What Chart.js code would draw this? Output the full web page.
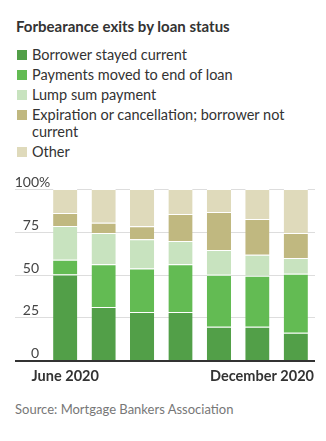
<!DOCTYPE html>
<html>
<head>
<meta charset="utf-8">
<script src="https://cdn.jsdelivr.net/npm/chart.js@4/dist/chart.umd.min.js"></script>
<style>
  body { margin: 0; width: 326px; height: 441px; background: #fff; font-family: Lato, "Open Sans", sans-serif; position: relative; overflow: hidden; }
  .title { position: absolute; left: 16px; top: 17px; font-size: 15px; font-weight: 700; color: #333; }
  .legend { position: absolute; left: 17px; top: 46px; width: 300px; }
  .item { position: relative; padding-left: 15px; font-size: 14.5px; line-height: 17px; color: #333; margin-bottom: 3px; }
  .item span { position: absolute; left: 0; top: 4px; width: 10px; height: 10px; }
  .wrap { position: absolute; left: 0; top: 170px; width: 326px; height: 220px; }
  .source { position: absolute; left: 15px; top: 401px; font-size: 13px; color: #777; }
</style>
</head>
<body>
<div class="title">Forbearance exits by loan status</div>
<div class="legend" id="legend"></div>
<div class="wrap"><canvas id="myChart"></canvas></div>
<div class="source">Source: Mortgage Bankers Association</div>
<script>
{
  'use strict';

  const months = ['June 2020', 'July 2020', 'August 2020', 'September 2020', 'October 2020', 'November 2020', 'December 2020'];
  const stayedCurrent = [50, 31, 28, 28, 19.5, 19.5, 16];
  const movedToEnd = [8.6, 25, 25.5, 28, 30.3, 29.7, 34.4];
  const lumpSum = [19.8, 18.3, 17.1, 13.6, 14.6, 12.3, 9.3];
  const expiration = [7.6, 5.9, 7.6, 15.8, 22.2, 21, 14.6];
  const other = [14, 19.8, 21.8, 14.6, 13.4, 17.5, 25.7];
  const yTicks = [0, 25, 50, 75, 100];
  const xLabels = ['June 2020', 'December 2020'];

  const series = [
    { label: 'Borrower stayed current', data: stayedCurrent, color: '#529f48' },
    { label: 'Payments moved to end of loan', data: movedToEnd, color: '#63bb53' },
    { label: 'Lump sum payment', data: lumpSum, color: '#c8e3bf' },
    { label: 'Expiration or cancellation; borrower not current', data: expiration, color: '#c0b880' },
    { label: 'Other', data: other, color: '#dfdabb' }
  ];

  /* Legend */
  const legend = document.getElementById('legend');
  series.forEach(function (s) {
    const div = document.createElement('div');
    div.className = 'item';
    div.innerHTML = '<span style="background:' + s.color + '"></span>' + s.label;
    legend.appendChild(div);
  });

  /* Axis plugin */
  const axisPlugin = {
    id: 'axisPlugin',
    beforeDatasetsDraw(chart) {
      const ctx = chart.ctx;
      const y = chart.scales.y;
      const area = chart.chartArea;
      ctx.save();
      ctx.strokeStyle = '#dddddd';
      ctx.lineWidth = 1;
      yTicks.forEach(function (t) {
        if (t === 0) return;
        const py = Math.round(y.getPixelForValue(t)) + 0.5;
        ctx.beginPath();
        ctx.moveTo(15, py);
        ctx.lineTo(area.right, py);
        ctx.stroke();
      });
      ctx.fillStyle = '#444';
      ctx.font = '14px Lato';
      ctx.textAlign = 'right';
      ctx.textBaseline = 'alphabetic';
      yTicks.forEach(function (t) {
        const py = y.getPixelForValue(t);
        ctx.fillText(String(t), 39, py - 2);
        if (t === 100) {
          ctx.textAlign = 'left';
          ctx.fillText('%', 39, py - 2);
          ctx.textAlign = 'right';
        }
      });
      ctx.restore();
    },
    afterDatasetsDraw(chart) {
      const ctx = chart.ctx;
      const x = chart.scales.x;
      const y = chart.scales.y;
      const area = chart.chartArea;
      ctx.save();
      const py = y.getPixelForValue(0);
      ctx.strokeStyle = '#333';
      ctx.lineWidth = 2;
      ctx.beginPath();
      ctx.moveTo(15, py + 1);
      ctx.lineTo(area.right, py + 1);
      ctx.stroke();
      ctx.fillStyle = '#333';
      ctx.font = 'bold 14.5px Lato';
      ctx.textAlign = 'center';
      ctx.fillText(xLabels[0], x.getPixelForValue(0), py + 21);
      ctx.textAlign = 'right';
      ctx.fillText(xLabels[1], area.right - 1, py + 21);
      ctx.restore();
    }
  };

  function initChart() {
    const ctx = document.getElementById('myChart').getContext('2d');

    // eslint-disable-next-line no-undef
    new Chart(ctx, {
      type: 'bar',
      data: {
        labels: months,
        datasets: series.map(function (s) {
          return {
            label: s.label,
            data: s.data,
            backgroundColor: s.color,
            borderColor: '#ffffff',
            borderWidth: { top: 1, bottom: 0, left: 0, right: 0 },
            borderSkipped: false,
            categoryPercentage: 1,
            barPercentage: 0.63
          };
        })
      },
      options: {
        responsive: true,
        maintainAspectRatio: false,
        animation: false,
        layout: { padding: { left: 46, right: 11, top: 19, bottom: 30 } },
        plugins: { legend: { display: false }, tooltip: { enabled: false } },
        scales: {
          x: { stacked: true, display: false },
          y: { stacked: true, display: false, min: 0, max: 100 }
        }
      },
      plugins: [axisPlugin]
    });
  }

  initChart();
}
</script>
</body>
</html>
